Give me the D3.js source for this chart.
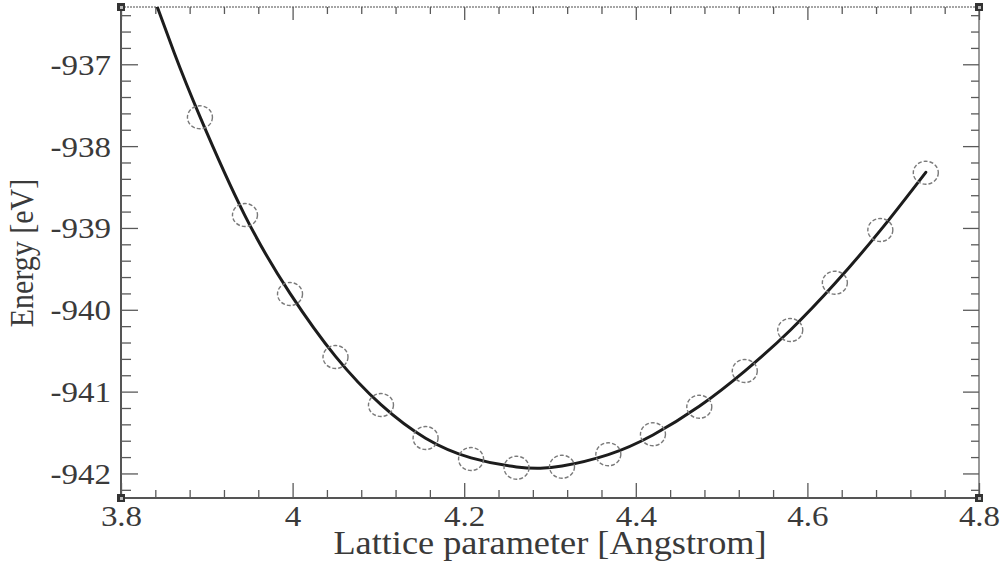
<!DOCTYPE html>
<html>
<head>
<meta charset="utf-8">
<script src="https://cdn.jsdelivr.net/npm/d3@7"></script>
<style>
  html, body { margin: 0; padding: 0; background: #fff; }
  svg { display: block; }
  text { font-family: "Liberation Serif", "DejaVu Serif", serif; fill: #3a3a3a; }
</style>
</head>
<body>
<svg id="chart" width="1008" height="568"></svg>
<script>
// ---- data ----
const latticeParam = [3.892, 3.9445, 3.997, 4.050, 4.103, 4.155, 4.208, 4.261, 4.314, 4.368, 4.420, 4.474, 4.527, 4.580, 4.632, 4.685, 4.738];
const energy = [-937.648, -938.842, -939.807, -940.577, -941.164, -941.567, -941.824, -941.930, -941.918, -941.766, -941.521, -941.185, -940.748, -940.247, -939.669, -939.025, -938.325];

// fitted curve
const fitLattice = [3.830, 3.862, 3.892, 3.944, 3.997, 4.050, 4.103, 4.155, 4.208, 4.261, 4.288, 4.314, 4.368, 4.420, 4.474, 4.527, 4.580, 4.632, 4.685, 4.738];
const fitEnergy = [-935.95, -936.86, -937.64, -938.84, -939.80, -940.57, -941.16, -941.57, -941.81, -941.92, -941.935, -941.91, -941.77, -941.53, -941.18, -940.75, -940.25, -939.68, -939.03, -938.32];

const xTickValues = [3.8, 4.0, 4.2, 4.4, 4.6, 4.8];
const xTickLabels = ["3.8", "4", "4.2", "4.4", "4.6", "4.8"];
const yTickValues = [-942, -941, -940, -939, -938, -937];
const yTickLabels = ["-942", "-941", "-940", "-939", "-938", "-937"];
const xTitle = "Lattice parameter [Angstrom]";
const yTitle = "Energy [eV]";

// ---- layout ----
const L = 121, R = 979, T = 7, B = 498;
const svg = d3.select("#chart");
const x = d3.scaleLinear().domain([3.8, 4.8]).range([L, R]);
const y = d3.scaleLinear().domain([-942.3, -936.3]).range([B, T]);

const xMinor = d3.range(3.8, 4.8001, 0.04).filter(v => !xTickValues.some(t => Math.abs(t - v) < 1e-6));
const yMinor = d3.range(-942.2, -936.3, 0.2).filter(v => !yTickValues.some(t => Math.abs(t - v) < 1e-6));

const tickColor = "#5a5a5a";
const stretch = 1.1;

// Axis frame lines
svg.append("line").attr("x1", L).attr("x2", L).attr("y1", T).attr("y2", B)
  .attr("stroke", "#555").attr("stroke-width", 2);
svg.append("line").attr("x1", L).attr("x2", R).attr("y1", B).attr("y2", B)
  .attr("stroke", "#555").attr("stroke-width", 2);
svg.append("line").attr("x1", L).attr("x2", R).attr("y1", T).attr("y2", T)
  .attr("stroke", "#888").attr("stroke-width", 1.4).attr("stroke-dasharray", "2,1");
svg.append("line").attr("x1", R).attr("x2", R).attr("y1", T).attr("y2", B)
  .attr("stroke", "#777").attr("stroke-width", 1.5);

// Ticks via d3 axes (inward)
function styleAxis(g) {
  g.select(".domain").remove();
  g.selectAll("line").attr("stroke", tickColor).attr("stroke-width", 1.3);
}
// bottom major
svg.append("g").attr("transform", `translate(0,${B})`)
  .call(d3.axisBottom(x).tickValues(xTickValues).tickSize(-15).tickFormat((d, i) => xTickLabels[i]).tickPadding(0))
  .call(styleAxis)
  .call(g => g.selectAll("text")
    .attr("font-size", 30).attr("y", 0).attr("dy", null)
    .attr("transform", `translate(0,28) scale(${stretch},1)`)
    .attr("font-family", "Liberation Serif, serif").attr("fill", "#3a3a3a"));
// bottom minor
svg.append("g").attr("transform", `translate(0,${B})`)
  .call(d3.axisBottom(x).tickValues(xMinor).tickSize(-8).tickFormat(""))
  .call(styleAxis);
// top major/minor
svg.append("g").attr("transform", `translate(0,${T})`)
  .call(d3.axisTop(x).tickValues(xTickValues).tickSize(-13).tickFormat(""))
  .call(styleAxis);
svg.append("g").attr("transform", `translate(0,${T})`)
  .call(d3.axisTop(x).tickValues(xMinor).tickSize(-7).tickFormat(""))
  .call(styleAxis);
// left major
svg.append("g").attr("transform", `translate(${L},0)`)
  .call(d3.axisLeft(y).tickValues(yTickValues).tickSize(-17).tickFormat((d, i) => yTickLabels[i]).tickPadding(0))
  .call(styleAxis)
  .call(g => g.selectAll("text")
    .attr("font-size", 30).attr("x", 0).attr("dy", null).attr("y", 0)
    .attr("text-anchor", "end")
    .attr("transform", `translate(-10,10) scale(${stretch},1)`)
    .attr("font-family", "Liberation Serif, serif").attr("fill", "#3a3a3a"));
// left minor
svg.append("g").attr("transform", `translate(${L},0)`)
  .call(d3.axisLeft(y).tickValues(yMinor).tickSize(-10).tickFormat(""))
  .call(styleAxis);
// right major/minor
svg.append("g").attr("transform", `translate(${R},0)`)
  .call(d3.axisRight(y).tickValues(yTickValues).tickSize(-16).tickFormat(""))
  .call(styleAxis);
svg.append("g").attr("transform", `translate(${R},0)`)
  .call(d3.axisRight(y).tickValues(yMinor).tickSize(-8).tickFormat(""))
  .call(styleAxis);

// Corner markers
[[L, T], [L, B], [R, B], [R, T]].forEach(([cx, cy]) => {
  svg.append("rect").attr("x", cx - 4).attr("y", cy - 4).attr("width", 8).attr("height", 8)
    .attr("fill", "#333");
  svg.append("rect").attr("x", cx - 1).attr("y", cy - 1).attr("width", 3).attr("height", 3)
    .attr("fill", "#bbb");
});

// Clip
svg.append("clipPath").attr("id", "plotclip")
  .append("rect").attr("x", L).attr("y", T).attr("width", R - L).attr("height", B - T);

// Fitted curve
const fitData = fitLattice.map((v, i) => [v, fitEnergy[i]]);
svg.append("path")
  .datum(fitData)
  .attr("clip-path", "url(#plotclip)")
  .attr("fill", "none")
  .attr("stroke", "#1c1c1c")
  .attr("stroke-width", 3)
  .attr("stroke-linecap", "round")
  .attr("d", d3.line().x(d => x(d[0])).y(d => y(d[1])).curve(d3.curveNatural));

// Data points (open dashed circles)
svg.append("g").selectAll("ellipse")
  .data(latticeParam.map((v, i) => [v, energy[i]]))
  .join("ellipse")
  .attr("cx", d => x(d[0]))
  .attr("cy", d => y(d[1]))
  .attr("rx", 12.5)
  .attr("ry", 11.5)
  .attr("fill", "none")
  .attr("stroke", "#7a7a7a")
  .attr("stroke-width", 1.4)
  .attr("stroke-dasharray", "4,2");

// Axis titles
svg.append("text")
  .attr("text-anchor", "middle")
  .attr("font-size", 33)
  .attr("transform", `translate(${(L + R) / 2 + 0},554) scale(${stretch},1)`)
  .text(xTitle);

svg.append("text")
  .attr("text-anchor", "middle")
  .attr("font-size", 30)
  .attr("transform", `translate(33,253) rotate(-90) scale(1,${stretch})`)
  .text(yTitle);
</script>
</body>
</html>
